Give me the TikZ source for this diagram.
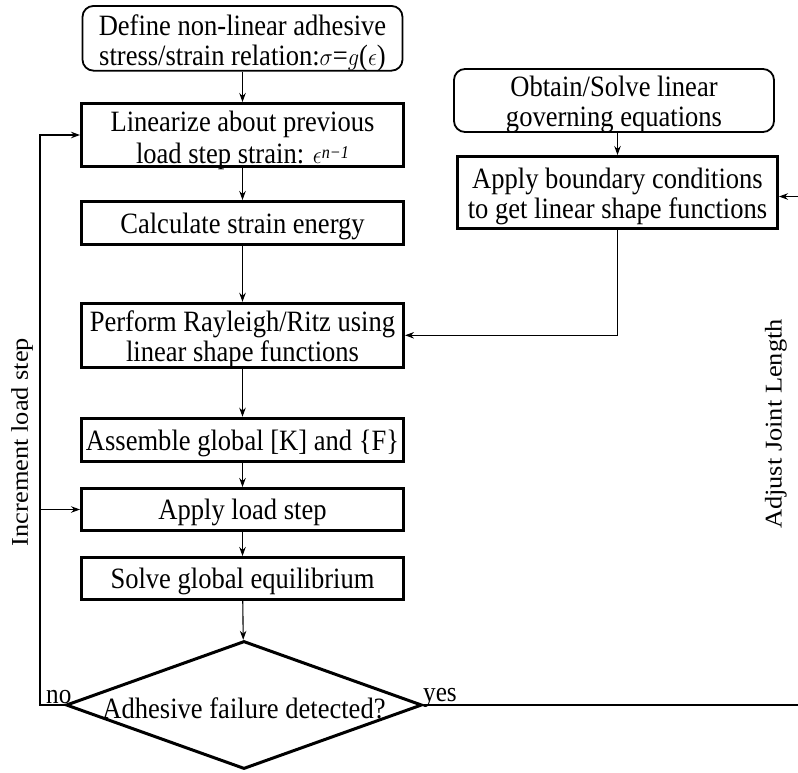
\documentclass[tikz,border=0pt]{standalone}
\usepackage{fontspec}
\usepackage{graphicx}
\setmainfont[FakeStretch=0.9]{Liberation Serif}
\newfontfamily\rotfont[FakeStretch=1.1]{Liberation Serif}
\usetikzlibrary{shapes.geometric,arrows.meta,calc}
\newcommand{\mth}[1]{\scalebox{0.9}[1]{$#1$}}
\begin{document}
\begin{tikzpicture}[x=1pt,y=-1pt,
  every node/.style={font=\fontsize{29.5}{30}\selectfont},
  box/.style={draw,line width=3pt,minimum width=322pt,inner sep=0pt},
  rbox/.style={draw,line width=1.8pt,rounded corners=11pt,minimum width=320pt,inner sep=0pt},
  txt/.style={inner sep=0pt,align=center},
  arr/.style={-{Stealth[length=9pt,width=6.5pt]},line width=1.1pt},
  lbl/.style={font=\fontsize{28}{30}\selectfont,inner sep=0pt},
  rot/.style={rotate=90,inner sep=0pt,font=\rotfont\fontsize{24}{28}\selectfont}]
\useasboundingbox (0,0) rectangle (798,772);

% boxes
\node[rbox,minimum height=64.7pt] (b1) at (242.5,38.3) {};
\node[box,minimum height=63pt] (b2) at (242.5,135) {};
\node[box,minimum height=43pt] (b3) at (242.5,223) {};
\node[box,minimum height=64pt] (b4) at (242.5,335.3) {};
\node[box,minimum height=43.6pt] (b5) at (242.5,440) {};
\node[box,minimum height=42pt] (b6) at (242.5,509.5) {};
\node[box,minimum height=42pt] (b7) at (242.5,578.5) {};
\node[draw,shape=diamond,aspect=2.75,line width=3pt,inner sep=0pt,minimum width=356pt,minimum height=128pt] (d) at (244,705) {};
\node[rbox,minimum height=63pt] (r1) at (614,100.5) {};
\node[box,minimum width=320pt,minimum height=72pt] (r2) at (617.5,192.5) {};

% texts
\node[txt] (t1) at ([yshift=-5pt]b1.center) {Define non-linear adhesive\\stress/strain relation:\mth{\sigma}=\mth{g}(\mth{\epsilon})};
\node[txt,font=\fontsize{29.5}{32}\selectfont] (t2) at ([yshift=-5pt]b2.center) {Linearize about previous\\load step strain: \mth{\epsilon}\raisebox{5pt}{\fontsize{18}{18}\selectfont\itshape n−1}};
\node[txt] (t3) at ([yshift=-3pt]b3.center) {Calculate strain energy};
\node[txt] (t4) at ([yshift=-4pt]b4.center) {Perform Rayleigh/Ritz using\\linear shape functions};
\node[txt] (t5) at ([yshift=-3pt]b5.center) {Assemble global [K] and \{F\}};
\node[txt] (t6) at ([yshift=-3pt]b6.center) {Apply load step};
\node[txt] (t7) at ([yshift=-3pt]b7.center) {Solve global equilibrium};
\node[txt] (td) at ([yshift=-3pt]d.center) {Adhesive failure detected?};
\node[txt] (tr1) at ([yshift=-4pt]r1.center) {Obtain/Solve linear\\governing equations};
\node[txt] (tr2) at ([yshift=-4pt]r2.center) {Apply boundary conditions\\to get linear shape functions};

\node[rot] (inc) at (22,442) {Increment load step};
\node[rot] (adj) at (776,424) {Adjust Joint Length};
\node[lbl,anchor=base west] (no) at (46,703) {no};
\node[lbl,anchor=base west] (yes) at (423,701) {yes};

% connectors
\draw[arr] (b1) -- (b2);
\draw[arr] (b2) -- (b3);
\draw[arr] (b3) -- (b4);
\draw[arr] (b4) -- (b5);
\draw[arr] (b5) -- (b6);
\draw[arr] (b6) -- (b7);
\draw[arr] (b7) -- (d);
\draw[arr] (r2.north |- r1.south) -- (r2.north);
\draw[arr] (r2.south) |- (b4.east);

\coordinate (rc) at (800,705);
\draw[arr] (d.east) -- (rc) |- ($(r2.east)+(0,4)$);
\coordinate (lc) at (40,705);
\draw[arr] (d.west) -- (lc) |- (b2.west);
\draw[arr] (lc |- b6.west) -- (b6.west);
\end{tikzpicture}
\end{document}
